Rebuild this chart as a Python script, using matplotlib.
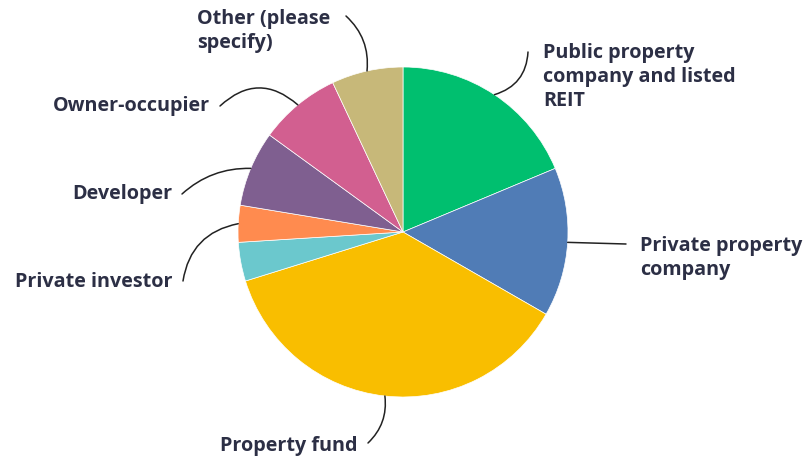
import matplotlib
matplotlib.use("Agg")
import matplotlib.pyplot as plt
import numpy as np

# Survey answer shares (%), clockwise from 12 o'clock
categories = [
    "Public property\ncompany and listed\nREIT",
    "Private property\ncompany",
    "Property fund",
    "",  # unlabeled slice
    "Private investor",
    "Developer",
    "Owner-occupier",
    "Other (please\nspecify)",
]
shares = [18.7, 14.6, 36.9, 3.8, 3.6, 7.4, 8.0, 7.0]
colors = ["#00bf6f", "#507cb6", "#f9be00", "#6bc8cd",
          "#ff8b4f", "#7f5f90", "#d25f90", "#c7b879"]

# label placement in pixel coords (top-left origin): text anchor, align, line start, curve
label_pos = [
    ((543, 77), "left", (528, 52), -0.35),
    ((640, 258), "left", (626, 244), 0.0),
    ((358, 446), "right", (368, 443), 0.25),
    None,
    ((173, 282), "right", (183, 281), -0.35),
    ((172, 194), "right", (182, 194), -0.2),
    ((210, 106), "right", (220, 106), -0.45),
    ((197, 31), "left", (346, 16), -0.25),
]

W, H = 812, 466
fig = plt.figure(figsize=(W / 100, H / 100), dpi=100)
ax = fig.add_axes([0, 0, 1, 1])

cx, cy, r = 403, H - 232, 165
wedges, _ = ax.pie(shares, colors=colors, startangle=90, counterclock=False,
                   center=(cx, cy), radius=r, frame=True,
                   wedgeprops=dict(linewidth=0.5, edgecolor="white"))
ax.set_xlim(0, W)
ax.set_ylim(0, H)
ax.set_aspect("equal")
ax.axis("off")

txt_color = "#2c2f45"
for w, lab, pos in zip(wedges, categories, label_pos):
    if pos is None:
        continue
    (tx, ty), ha, (sx, sy), rad = pos
    mid = np.deg2rad((w.theta1 + w.theta2) / 2)
    ex, ey = cx + r * np.cos(mid), cy + r * np.sin(mid)
    ax.text(tx, H - ty, lab, ha=ha, va="center", fontsize=14.2,
            family=["Open Sans", "DejaVu Sans"], weight="bold",
            color=txt_color, linespacing=1.27)
    ax.annotate("", xy=(ex, ey), xytext=(sx, H - sy),
                arrowprops=dict(arrowstyle="-", color="#222222", lw=1.1,
                                shrinkA=0, shrinkB=0,
                                connectionstyle=f"arc3,rad={rad}"))

fig.savefig("out.png", dpi=100, facecolor="white")
